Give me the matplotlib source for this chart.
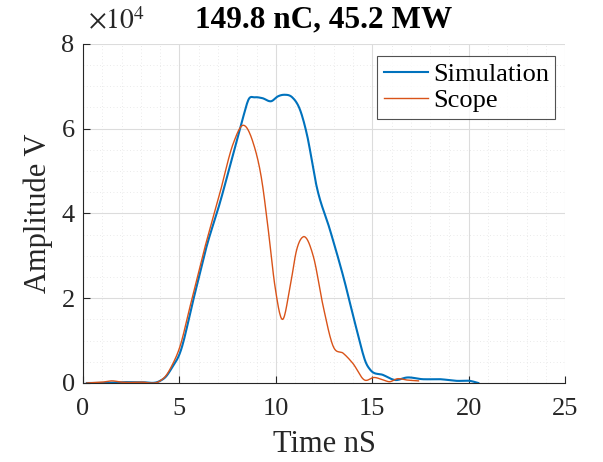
import matplotlib
matplotlib.use("Agg")
import matplotlib.pyplot as plt
from matplotlib.ticker import MultipleLocator
import numpy as np

# * DATA
sim_t = [0.2, 1.0, 2.0, 3.0, 4.0, 4.3, 4.6, 5.03, 5.72, 6.41, 7.1, 7.8, 8.31, 8.6,
         8.9, 9.3, 9.78, 10.1, 10.45, 10.85, 11.26, 11.6, 12.12, 12.81, 13.5, 14.2, 14.7,
         14.9, 15.56, 16.2, 16.8, 17.6, 18.5, 19.4, 20.07, 20.5]
sim_v = [0.0, 0.0, 0.02, 0.02, 0.05, 0.15, 0.35, 0.71, 1.96, 3.22, 4.25, 5.42, 6.28, 6.7,
         6.74, 6.72, 6.65, 6.76, 6.8, 6.74, 6.44, 5.89, 4.63, 3.61, 2.51, 1.25, 0.45,
         0.31, 0.19, 0.07, 0.13, 0.09, 0.09, 0.05, 0.05, 0.0]
scope_t = [0.2, 1.0, 1.5, 2.0, 3.0, 4.0, 4.3, 4.6, 5.03, 5.55, 6.24, 7.1, 7.8, 8.31, 8.83,
           9.27, 9.61, 9.96, 10.34, 10.74, 11.08, 11.43, 11.95, 12.46, 12.98, 13.5,
           14.0, 14.6, 15.1, 15.58, 15.9, 16.3, 16.8, 17.4]
scope_v = [0.0, 0.02, 0.05, 0.02, 0.02, 0.05, 0.17, 0.4, 0.86, 1.8, 3.06, 4.48, 5.66, 6.08, 5.66,
           4.79, 3.61, 2.27, 1.5, 2.27, 3.14, 3.45, 2.98, 1.8, 0.86, 0.7,
           0.46, 0.07, 0.13, 0.07, 0.03, 0.1, 0.07, 0.05]

title = "149.8 nC, 45.2 MW"


def smooth(t, v, n=600):
    """Cubic Hermite curve through the read points (for display only)."""
    t = np.asarray(t)
    v = np.asarray(v)
    tt = np.linspace(t[0], t[-1], n)
    m = np.gradient(v, t)
    idx = np.clip(np.searchsorted(t, tt) - 1, 0, len(t) - 2)
    h = t[idx + 1] - t[idx]
    s = (tt - t[idx]) / h
    h00 = 2 * s**3 - 3 * s**2 + 1
    h10 = s**3 - 2 * s**2 + s
    h01 = -2 * s**3 + 3 * s**2
    h11 = s**3 - s**2
    vv = h00 * v[idx] + h10 * h * m[idx] + h01 * v[idx + 1] + h11 * h * m[idx + 1]
    return tt, np.clip(vv, 0, None)


plt.rcParams["font.family"] = ["Liberation Serif", "DejaVu Serif"]
plt.rcParams["mathtext.fontset"] = "stix"

fig = plt.figure(figsize=(6.03, 4.62), dpi=100)
ax = fig.add_axes([0.1376, 0.171, 0.7995, 0.734])

x1, y1 = smooth(sim_t, sim_v)
x2, y2 = smooth(scope_t, scope_v)
ax.plot(x1, y1 * 1e4, color="#0072BD", lw=1.5, label="Simulation")
ax.plot(x2, y2 * 1e4, color="#D95319", lw=1.0, label="Scope")

ax.set_xlim(0, 25)
ax.set_ylim(0, 8e4)
ax.xaxis.set_major_locator(MultipleLocator(5))
ax.xaxis.set_minor_locator(MultipleLocator(1))
ax.yaxis.set_minor_locator(MultipleLocator(5e3))
ax.set_yticks([0, 2e4, 4e4, 6e4, 8e4])
ax.set_yticklabels(["0", "2", "4", "6", "8"])

ax.grid(which="major", color="#DCDCDC", lw=0.8)
ax.grid(which="minor", color="#E3E3E3", lw=0.6, ls=(0, (1, 3)))
ax.set_axisbelow(True)
for side in ("top", "right"):
    ax.spines[side].set_visible(False)
for side in ("left", "bottom"):
    ax.spines[side].set_color("#262626")
    ax.spines[side].set_linewidth(0.8)
ax.tick_params(which="major", direction="in", length=5, width=0.8, colors="#262626",
               labelsize=19, labelcolor="#262626")
ax.tick_params(axis="x", pad=11)
ax.tick_params(axis="y", pad=6)
ax.tick_params(which="minor", length=0)

ax.text(0.01, 1.025, r"$\times10^{4}$", transform=ax.transAxes, fontsize=20,
        color="#262626", ha="left", va="bottom")
ax.set_title(title, fontsize=22.5, fontweight="bold", pad=12)
ax.set_xlabel("Time nS", fontsize=22, color="#262626", labelpad=7)
ax.set_ylabel("Amplitude V", fontsize=22, color="#262626", labelpad=6)

leg = ax.legend(loc="upper right", fontsize=19, frameon=True, fancybox=False,
                handlelength=1.65, handletextpad=0.2, borderpad=0.25,
                labelspacing=0.1, borderaxespad=0.0,
                bbox_to_anchor=(0.98, 0.965))
leg.get_frame().set_edgecolor("#262626")
leg.get_frame().set_linewidth(0.8)

fig.savefig("out.png", dpi=100)
